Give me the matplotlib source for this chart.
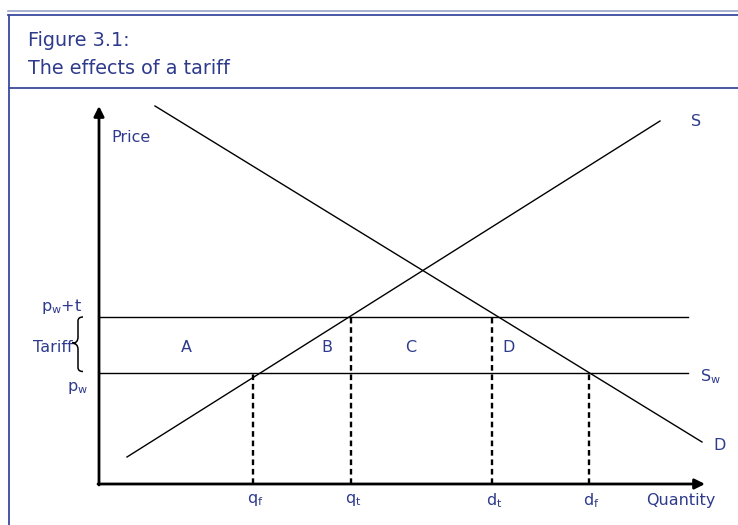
import matplotlib
matplotlib.use("Agg")
import matplotlib.pyplot as plt
from matplotlib.lines import Line2D
from matplotlib.path import Path
from matplotlib.patches import PathPatch

plt.rcParams['font.family'] = ['DejaVu Sans']
plt.rcParams['mathtext.fontset'] = 'dejavusans'

# ---- diagram data (units: quantity / price) ----
supply_q = [2.8, 56.1]
supply_p = [2.7, 36.3]
demand_q = [5.6, 60.3]
demand_p = [37.8, 4.2]
p_world = 11.1
p_tariff = 16.75
line_end_q = 58.9
q_marks = [15.4, 25.2, 39.3, 49.0]          # qf, qt, dt, df
q_mark_prices = [p_world, p_tariff, p_tariff, p_world]
q_labels = [r'q$_\mathregular{f}$', r'q$_\mathregular{t}$',
            r'd$_\mathregular{t}$', r'd$_\mathregular{f}$']
area_labels = ['A', 'B', 'C', 'D']
area_q = [8.7, 22.8, 31.2, 41.0]
x_axis_max = 60.6
y_axis_max = 37.8

TXT = '#2E3B8C'
FRAME = '#3A4A9E'

W, H = 738, 525
fig = plt.figure(figsize=(W / 100, H / 100), dpi=100)

# frame / title (figure pixel coords converted to fractions)
def fl(x0, y0, x1, y1, **kw):
    fig.add_artist(Line2D([x0 / W, x1 / W], [1 - y0 / H, 1 - y1 / H],
                          transform=fig.transFigure, **kw))

fl(8, 11, W, 11, color='#9AA3C8', lw=1.2)
fl(8, 14.5, W, 14.5, color=FRAME, lw=1.3)
fl(9, 14.5, 9, H, color=FRAME, lw=1.3)
fl(9, 88, W, 88, color=FRAME, lw=1.3)
fig.text(28 / W, 1 - 40 / H, 'Figure 3.1:', color=TXT, fontsize=13.8,
         va='center', ha='left')
fig.text(28 / W, 1 - 68 / H, 'The effects of a tariff', color=TXT,
         fontsize=13.8, va='center', ha='left')

# diagram axes: origin at pixel (99, 484), 10 px per unit
ox, oy, s = 99, 484, 10.0
ax = fig.add_axes([0, 0, 1, 1])
ax.set_xlim(-ox / s, (W - ox) / s)
ax.set_ylim(-(H - oy) / s, oy / s)
ax.axis('off')

# axes with arrows
arr = dict(arrowstyle='-|>', lw=2.0, color='black', mutation_scale=15,
           shrinkA=0, shrinkB=0)
ax.annotate('', xy=(0, y_axis_max), xytext=(0, -0.1), arrowprops=arr)
ax.annotate('', xy=(x_axis_max, 0), xytext=(-0.1, 0), arrowprops=arr)

# supply & demand
ax.plot(supply_q, supply_p, color='black', lw=1.0)
ax.plot(demand_q, demand_p, color='black', lw=1.0)
# price lines
ax.plot([0, line_end_q], [p_tariff, p_tariff], color='black', lw=1.0)
ax.plot([0, line_end_q], [p_world, p_world], color='black', lw=1.0)

# dashed verticals and labels
for q, p, lab in zip(q_marks, q_mark_prices, q_labels):
    ax.plot([q, q], [0, p], color='black', lw=1.7, dashes=(2.4, 1.6))
    ax.text(q + 0.2, -1.65, lab, color=TXT, fontsize=11.5, ha='center',
            va='center')

ax.text(58.2, -1.65, 'Quantity', color=TXT, fontsize=11.5, ha='center',
        va='center')
ax.text(1.2, 34.6, 'Price', color=TXT, fontsize=11.5, ha='left',
        va='center')

mid = (p_world + p_tariff) / 2 - 0.5
for q, lab in zip(area_q, area_labels):
    ax.text(q, mid + 0.2, lab, color=TXT, fontsize=11.5, ha='center',
            va='center')

ax.text(59.2, 36.2, 'S', color=TXT, fontsize=11.5, ha='left', va='center')
ax.text(60.1, 10.7, r'S$_\mathregular{w}$', color=TXT, fontsize=11.5,
        ha='left', va='center')
ax.text(61.4, 3.9, 'D', color=TXT, fontsize=11.5, ha='left', va='center')

ax.text(-1.7, p_tariff + 0.95, r'p$_\mathregular{w}$+t', color=TXT,
        fontsize=11.5, ha='right', va='center')
ax.text(-1.1, p_world - 1.5, r'p$_\mathregular{w}$', color=TXT,
        fontsize=11.5, ha='right', va='center')
ax.text(-2.6, (p_world + p_tariff) / 2 - 0.3, 'Tariff', color=TXT,
        fontsize=11.5, ha='right', va='center')

# curly brace
bx_end, bx_spine, bx_tip = -1.6, -2.1, -2.7
top, bot = p_tariff - 0.05, p_world + 0.15
cen = (top + bot) / 2 + 0.1
verts = [(bx_end, top), (bx_spine, top), (bx_spine, top - 0.4),
         (bx_spine, cen + 0.6),
         (bx_spine, cen), (bx_tip, cen),
         (bx_spine, cen), (bx_spine, cen - 0.6),
         (bx_spine, bot + 0.4), (bx_spine, bot), (bx_end, bot)]
codes = [Path.MOVETO, Path.CURVE3, Path.CURVE3, Path.LINETO,
         Path.CURVE3, Path.CURVE3, Path.CURVE3, Path.CURVE3,
         Path.LINETO, Path.CURVE3, Path.CURVE3]
ax.add_patch(PathPatch(Path(verts, codes), fill=False, edgecolor='black',
                       lw=1.1))

fig.savefig('out.png', dpi=100)
